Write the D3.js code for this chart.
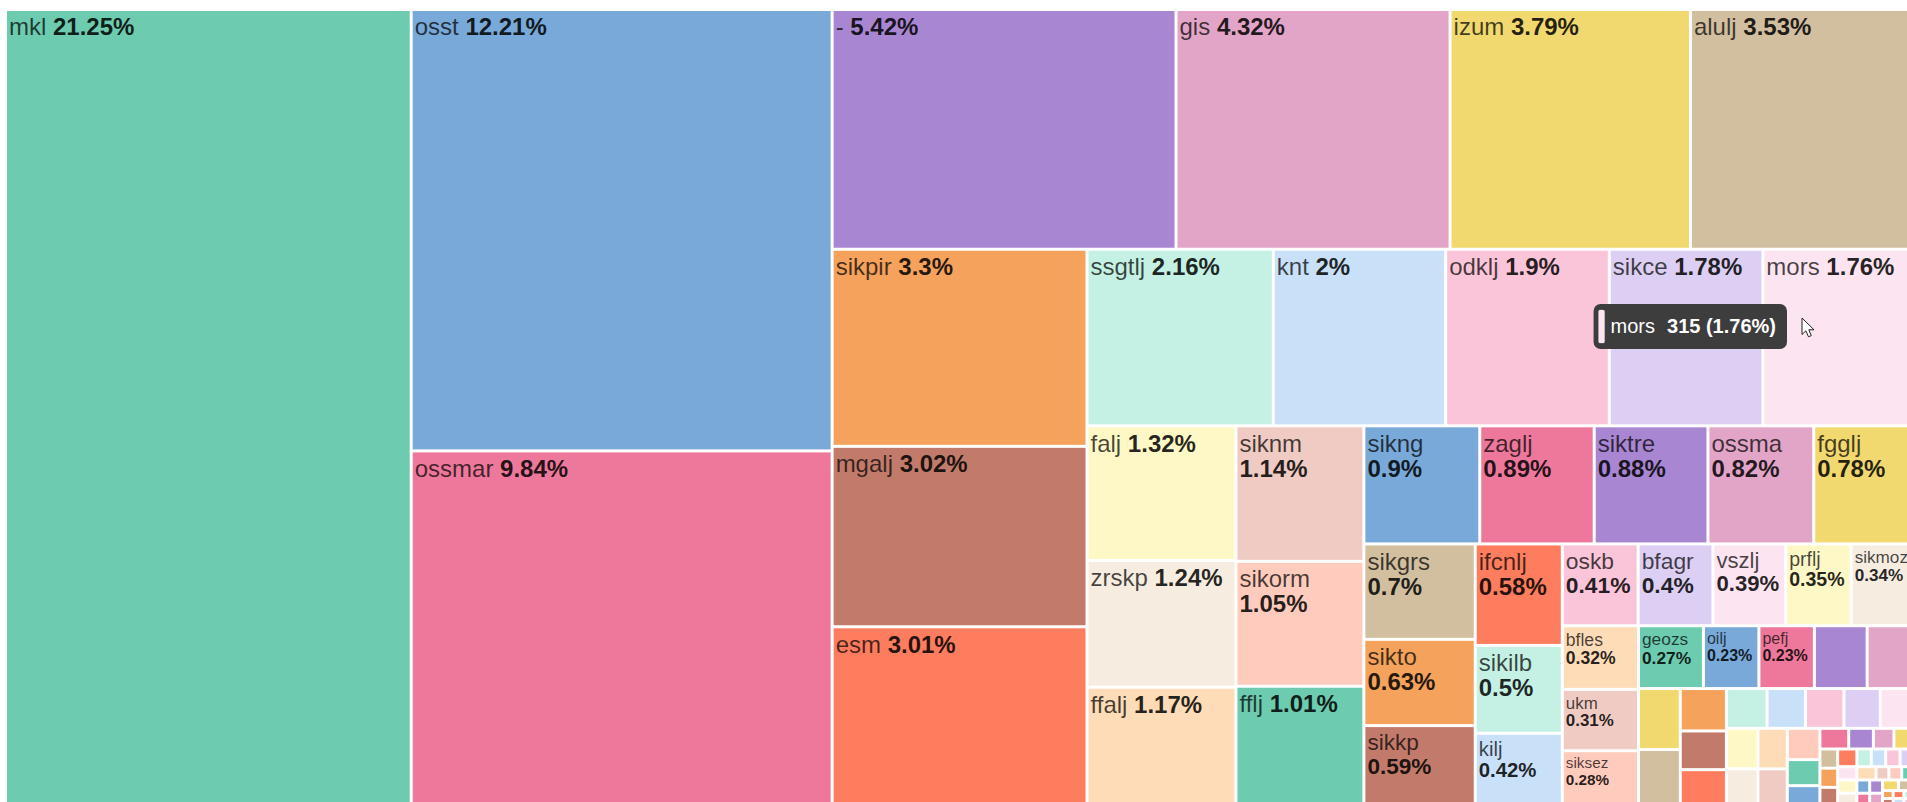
<!DOCTYPE html>
<html>
<head>
<meta charset="utf-8">
<script src="https://cdn.jsdelivr.net/npm/d3@7"></script>
<style>
  body { margin: 0; background: #fff; }
  svg { display: block; }
</style>
</head>
<body>
<script>
// Constants
const width = 1907;
const height = 802;
const mapWidth = 1906;
const mapHeight = 794;
const fontFamily = "'Liberation Sans', Arial, sans-serif";
const maxFont = 24;
const minFont = 10;
const labelScale = 0.29;

// Categories and their counts (largest first)
const names = ['mkl', 'osst', 'ossmar', '-', 'gis', 'izum', 'alulj', 'sikpir', 'mgalj', 'esm',
  'ssgtlj', 'knt', 'odklj', 'sikce', 'mors', 'falj', 'zrskp', 'ffalj', 'siknm', 'sikorm',
  'fflj', 'sikng', 'zaglj', 'siktre', 'ossma', 'fgglj', 'sikgrs', 'sikto', 'sikkp', 'ifcnlj',
  'sikilb', 'kilj', 'oskb', 'bfagr', 'vszlj', 'prflj', 'sikmoz', 'bfles', 'ukm', 'siksez',
  'geozs', 'oilj', 'pefj'];
const counts = [3804, 2186, 1761, 970, 773, 678, 632, 591, 541, 539,
  387, 358, 340, 319, 315, 236, 222, 209, 204, 188,
  181, 161, 159, 158, 147, 140, 125, 113, 106, 104,
  90, 75, 73, 72, 70, 63, 61, 57, 55, 50,
  48, 41, 41];
// the small tail, too small for a label
const otherCounts = [39, 35, 30, 28, 23, 21, 20, 19, 18, 18, 17, 16, 15, 14, 14, 13,
  12, 10, 8, 7, 6,
  5, 5, 4, 4, 4, 4, 3, 3, 3, 3, 3, 3, 3, 3, 2, 2, 2, 2, 2, 2, 2, 2, 2, 1, 1, 1, 1, 1, 1];

const palette = ['#6dcbb0', '#79a9d8', '#ee789b', '#a986d2', '#e3a5c7', '#f1d86f', '#d2bf9f',
  '#f4a25c', '#c27b6b', '#ff7d5f', '#c4f1e4', '#c9e1f8', '#fbc5d9', '#dccff3', '#fde4f1',
  '#fef8c6', '#f6ede0', '#fedcb7', '#f0cbc3', '#ffcbbd'];

// hover state in the picture
const hovered = 'mors';
const cursorAt = [1802, 318];

// squarify, but lay a strip across the top unless the box is wider than golden ratio
const phi = (1 + Math.sqrt(5)) / 2;
function tileGolden(parent, x0, y0, x1, y1) {
  const nodes = parent.children;
  let rest = parent.value;
  let i0 = 0;
  while (i0 < nodes.length) {
    const dx = x1 - x0;
    const dy = y1 - y0;
    const across = dx / phi <= dy;
    const side = across ? dx : dy;
    const unit = (dx * dy) / rest;
    let i1 = i0;
    let sum = 0;
    let best = Infinity;
    while (i1 < nodes.length) {
      const s = sum + nodes[i1].value;
      const thick = (s * unit) / side;
      const big = (nodes[i0].value * unit) / thick;
      const small = (nodes[i1].value * unit) / thick;
      const worst = Math.max(big / thick, thick / small);
      if (worst >= best) break;
      best = worst;
      sum = s;
      i1 += 1;
    }
    const row = { value: sum, children: nodes.slice(i0, i1) };
    if (across) d3.treemapDice(row, x0, y0, x1, y0 += (dy * sum) / rest);
    else d3.treemapSlice(row, x0, y0, x0 += (dx * sum) / rest, y1);
    rest -= sum;
    i0 = i1;
  }
}

// text width in em
const ctx = document.createElement('canvas').getContext('2d');
function em(text, weight) {
  ctx.font = `${weight} 100px ${fontFamily}`;
  return ctx.measureText(text).width / 100;
}

const data = names.map((name, i) => ({ name, value: counts[i] }))
  .concat(otherCounts.map((value) => ({ name: '', value })));
const total = d3.sum(data, (d) => d.value);
const fmtPct = (v) => `${+((v / total) * 100).toFixed(2)}%`;

const root = d3.hierarchy({ children: data })
  .sum((d) => d.value)
  .sort((a, b) => b.value - a.value);

d3.treemap()
  .tile(tileGolden)
  .size([mapWidth, mapHeight])
  .paddingInner(3)(root);

const leaves = root.leaves();
const color = d3.scaleOrdinal().domain(d3.range(leaves.length)).range(palette);

// Make main svg
const svg = d3.select('body')
  .append('svg')
  .attr('width', width)
  .attr('height', height)
  .style('font-family', fontFamily);

const cell = svg.append('g')
  .attr('transform', 'translate(7,11)')
  .selectAll('g')
  .data(leaves)
  .join('g')
  .attr('transform', (d) => `translate(${d.x0},${d.y0})`);

cell.append('rect')
  .attr('width', (d) => d.x1 - d.x0)
  .attr('height', (d) => d.y1 - d.y0)
  .attr('fill', (d, i) => color(i));

// Labels: name + share, one line if it fits, else two lines
cell.filter((d) => d.data.name).each(function (d) {
  const w = d.x1 - d.x0;
  const h = d.y1 - d.y0;
  const pct = fmtPct(d.value);
  const nameEm = em(d.data.name, 'normal');
  const pctEm = em(pct, 'bold');
  const spaceEm = em(' ', 'normal');
  const avail = w - 7;
  let size = Math.min(maxFont, labelScale * h);
  const oneLine = (nameEm + spaceEm + pctEm) * size <= avail;
  if (!oneLine) size = Math.min(size, avail / Math.max(nameEm, pctEm));
  if (size < minFont) return;

  const g = d3.select(this);
  const first = g.append('text')
    .attr('x', 2)
    .attr('y', 2 + size * 0.93)
    .attr('font-size', `${size}px`);
  first.append('tspan')
    .attr('fill', 'rgba(0,0,0,0.72)')
    .text(oneLine ? `${d.data.name} ` : d.data.name);
  const pctText = oneLine ? first : g.append('text')
    .attr('x', 2)
    .attr('y', 2 + size * 0.93 + size * 1.05)
    .attr('font-size', `${size}px`);
  pctText.append('tspan')
    .attr('fill', 'rgba(0,0,0,0.86)')
    .attr('font-weight', 'bold')
    .text(pct);
});

// Tooltip for the hovered cell
const hoverIndex = leaves.findIndex((d) => d.data.name === hovered);
const hoverNode = leaves[hoverIndex];
const tip = svg.append('g');
const tipBox = tip.append('rect')
  .attr('rx', 7)
  .attr('fill', '#3d3d3d');
const tipSwatch = tip.append('rect')
  .attr('width', 6)
  .attr('rx', 1.5)
  .attr('fill', color(hoverIndex))
  .attr('stroke', '#fff')
  .attr('stroke-opacity', 0.5)
  .attr('stroke-width', 0.5);
const tipName = tip.append('text')
  .attr('fill', '#fff')
  .attr('font-size', '20px')
  .text(hoverNode.data.name);
const tipValue = tip.append('text')
  .attr('fill', '#fff')
  .attr('font-size', '20px')
  .attr('font-weight', 'bold')
  .text(`${hoverNode.value} (${fmtPct(hoverNode.value)})`);

const nameW = tipName.node().getComputedTextLength();
const valueW = tipValue.node().getComputedTextLength();
const boxW = 5 + 6 + 6 + nameW + 12 + valueW + 11;
const boxH = 45;
const boxX = cursorAt[0] - 15 - boxW;
const boxY = cursorAt[1] + 8.5 - boxH / 2;
tipBox.attr('x', boxX).attr('y', boxY).attr('width', boxW).attr('height', boxH);
tipSwatch.attr('x', boxX + 5).attr('y', boxY + 6).attr('height', boxH - 12);
tipName.attr('x', boxX + 17).attr('y', boxY + 29);
tipValue.attr('x', boxX + 17 + nameW + 12).attr('y', boxY + 29);

// Mouse pointer
svg.append('path')
  .attr('transform', `translate(${cursorAt[0]},${cursorAt[1]})`)
  .attr('d', 'M0,0 V16.5 L3.9,12.8 L6.5,18.8 L9.3,17.6 L6.8,11.8 L12,11.8 Z')
  .attr('fill', '#fff')
  .attr('stroke', '#222')
  .attr('stroke-width', 1);
</script>
</body>
</html>
